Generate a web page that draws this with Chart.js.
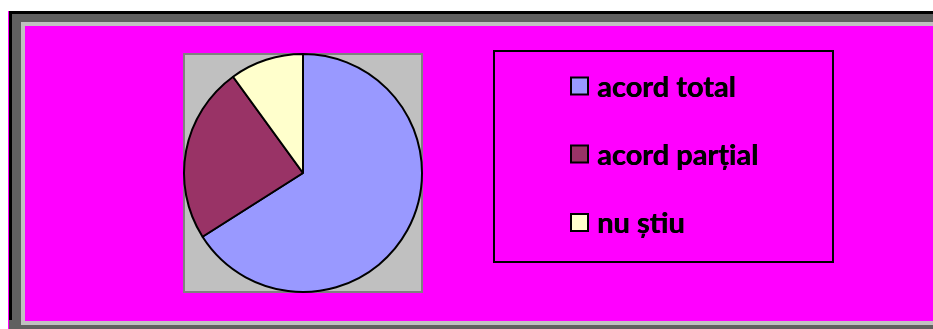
<!DOCTYPE html>
<html>
<head>
<meta charset="utf-8">
<script src="https://cdn.jsdelivr.net/npm/chart.js@4"></script>
<style>
  html, body { margin: 0; padding: 0; background: #fff; }
  canvas { display: block; }
</style>
</head>
<body>
<canvas id="chart" width="933" height="329"></canvas>
<script>
const labels = ["acord total", "acord parțial", "nu știu"];
const values = [66, 24, 10];
const colors = ["#9999ff", "#993366", "#ffffcc"];

// Outer frame: black edge, dark gray bevel, light gray rim, magenta fill.
const framePlugin = {
  id: "frame",
  beforeDraw(chart) {
    const c = chart.ctx;
    c.save();
    c.fillStyle = "#ffffff";
    c.fillRect(0, 0, 933, 329);
    c.fillStyle = "#ff00ff";
    c.fillRect(8, 11, 1, 318);
    c.fillStyle = "#000000";
    c.fillRect(9, 11, 924, 318);
    c.fillStyle = "#606060";
    c.fillRect(12, 14, 921, 315);
    c.fillRect(9, 320, 3, 9);
    c.fillStyle = "#c0c0c0";
    c.fillRect(21, 22, 912, 303);
    c.fillStyle = "#ff00ff";
    c.fillRect(25, 26, 908, 295);
    c.restore();
  },
  beforeDatasetsDraw(chart) {
    // gray plot area behind the pie
    const a = chart.chartArea;
    const c = chart.ctx;
    c.save();
    c.fillStyle = "#c0c0c0";
    c.fillRect(a.left, a.top, a.right - a.left, a.bottom - a.top);
    c.strokeStyle = "#808080";
    c.lineWidth = 2;
    c.strokeRect(a.left + 1, a.top + 1, a.right - a.left - 2, a.bottom - a.top - 2);
    c.restore();
  },
};

// Legend box on the right, drawn from the chart's own labels/colours.
const boxLegend = {
  id: "boxLegend",
  afterDraw(chart) {
    const c = chart.ctx;
    const ds = chart.data.datasets[0];
    c.save();
    c.strokeStyle = "#000";
    c.lineWidth = 2;
    c.strokeRect(494, 51, 339, 211);
    c.font = "bold 29px Lato, 'Open Sans', sans-serif";
    c.textBaseline = "alphabetic";
    c.fillStyle = "#000";
    const base = [96.5, 164.5, 233];
    chart.data.labels.forEach((lab, i) => {
      const y = base[i];
      c.fillStyle = ds.backgroundColor[i];
      c.fillRect(571, y - 19, 17, 17);
      c.lineWidth = 2;
      c.strokeStyle = "#000";
      c.strokeRect(571, y - 19, 17, 17);
      c.fillStyle = "#000";
      c.fillText(lab, 597, y);
      // a touch of extra weight, the original face is heavier
      c.fillText(lab, 597.5, y);
    });
    c.restore();
  },
};

new Chart(document.getElementById("chart").getContext("2d"), {
  type: "pie",
  data: {
    labels,
    datasets: [{
      data: values,
      backgroundColor: colors,
      borderColor: "#000",
      borderWidth: 2,
    }],
  },
  options: {
    responsive: false,
    animation: false,
    devicePixelRatio: 1,
    layout: { padding: { left: 183, right: 510, top: 53, bottom: 36 } },
    plugins: {
      legend: { display: false },
      tooltip: { enabled: false },
    },
  },
  plugins: [framePlugin, boxLegend],
});
</script>
</body>
</html>
